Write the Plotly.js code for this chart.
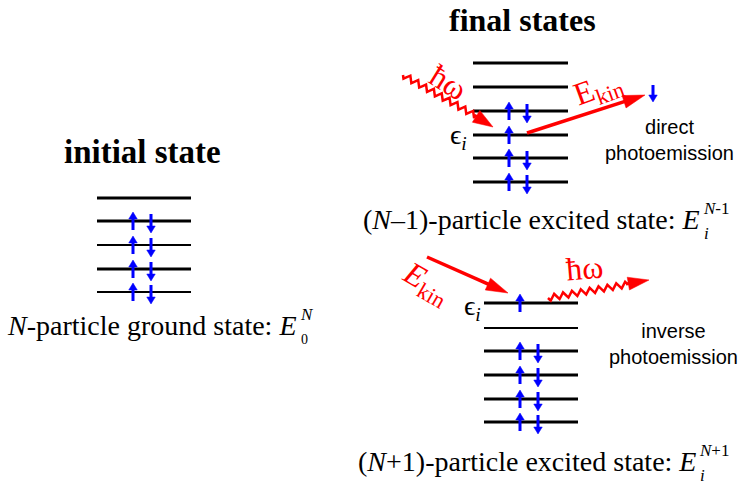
<!DOCTYPE html>
<html><head><meta charset="utf-8">
<script src="https://cdn.plot.ly/plotly-3.0.1.min.js"></script>
<style>html,body{margin:0;padding:0;background:#fff}#chart{width:742px;height:485px}</style>
</head><body><div id="chart"></div>
<script>
// ---- data: energy levels (diagram rows) and occupations ----
const initialLevels = [198, 221, 245, 269, 292];
const initialUp     = [0, 1, 1, 1, 1];
const initialDown   = [0, 1, 1, 1, 1];

const removalLevels = [63, 87, 111, 135, 158, 182];
const removalUp     = [0, 0, 1, 1, 1, 1];
const removalDown   = [0, 0, 1, 0, 1, 1];

const additionLevels = [303, 328, 351, 375, 399, 422];
const additionUp     = [1, 0, 1, 1, 1, 1];
const additionDown   = [0, 0, 1, 1, 1, 1];

const panelTitles = ["initial state", "final states"];
const stateLabels = ["<i>N</i>-particle ground state: <i>E</i>",
                     "(<i>N</i>–1)-particle excited state: <i>E</i>",
                     "(<i>N</i>+1)-particle excited state: <i>E</i>"];
const stateSup = ["<i>N</i>", "<i>N</i>-1", "<i>N</i>+1"];
const stateSub = ["0", "<i>i</i>", "<i>i</i>"];
const processLabels = ["direct<br>photoemission", "inverse<br>photoemission"];

// ---- layout geometry ----
const panels = [
  {levels: initialLevels, up: initialUp, down: initialDown, x0: 97, x1: 191, ux: 133, dx: 151, widths: [3,3,2,3,2]},
  {levels: removalLevels, up: removalUp, down: removalDown, x0: 473, x1: 568, ux: 509, dx: 527, widths: [3,3,3,3,3,3]},
  {levels: additionLevels, up: additionUp, down: additionDown, x0: 484, x1: 578, ux: 520, dx: 538, widths: [3,2,3,3,3,3]}
];
const BLUE = '#0000ff', RED = '#ff0000';
const serif = 'Liberation Serif, Times New Roman, serif';
const sans = 'Liberation Sans, Arial, sans-serif';

const traces = [];
const ann = [];

function seg(xs, ys, color, width) {
  traces.push({type:'scatter', mode:'lines', x:xs, y:ys, line:{color:color, width:width},
    hoverinfo:'skip', showlegend:false});
}
// arrow: shaft + filled head polygon, tip at (x1,y1)
function arrow(x0, y0, x1, y1, color, width, hl, hw) {
  const L = Math.hypot(x1-x0, y1-y0), ux = (x1-x0)/L, uy = (y1-y0)/L;
  const bx = x1 - ux*hl, by = y1 - uy*hl;
  seg([x0, bx + ux*1], [y0, by + uy*1], color, width);
  traces.push({type:'scatter', mode:'lines', fill:'toself', fillcolor:color,
    x:[x1, bx - uy*hw/2, bx + uy*hw/2, x1], y:[y1, by + ux*hw/2, by - ux*hw/2, y1],
    line:{color:color, width:0.5}, hoverinfo:'skip', showlegend:false});
}

panels.forEach(p => {
  p.levels.forEach((ly, i) => {
    seg([p.x0, p.x1], [ly, ly], '#000', p.widths[i]);
    if (p.up[i]) arrow(p.ux, ly+9, p.ux, ly-9, BLUE, 3, 7, 8.5);
    if (p.down[i]) arrow(p.dx, ly-7, p.dx, ly+12, BLUE, 3, 7, 8.5);
  });
});

// photon squiggle (decoration)
function squiggle(x0, y0, x1, y1, amp, wl) {
  const L = Math.hypot(x1-x0, y1-y0), ux = (x1-x0)/L, uy = (y1-y0)/L;
  const xs = [], ys = [];
  for (let s = 0; s <= L + 0.01; s += wl/4) {
    const k = Math.round(s/(wl/4)) % 4;
    const o = [0, amp, 0, -amp][k];
    xs.push(x0 + ux*s - uy*o); ys.push(y0 + uy*s + ux*o);
  }
  seg(xs, ys, RED, 2.5);
}
squiggle(403, 75, 476, 116, 3, 9);
arrow(474, 115, 493, 127, RED, 3, 20, 14);
squiggle(548, 298, 630, 284, 3, 9);
arrow(626, 284, 649, 280, RED, 3, 21, 13);

// electron arrows
arrow(527, 133, 645, 95, RED, 3.5, 22, 13);
arrow(427, 257, 508, 293, RED, 3.5, 22, 13);
// emitted electron spin
arrow(653, 85, 653, 102, BLUE, 3, 7, 8.5);

function txt(t, x, y, o) {
  ann.push(Object.assign({xref:'x', yref:'y', x:x, y:y, text:t, showarrow:false,
    xanchor:'center', yanchor:'middle', font:{family:serif, size:28, color:'#000'}}, o||{}));
}
const f = (fam, size, color) => ({family:fam, size:size, color:color||'#000'});

txt('<b>'+panelTitles[0]+'</b>', 142, 152, {font:f(serif, 33)});
txt('<b>'+panelTitles[1]+'</b>', 522, 0, {yanchor:'top', font:f(serif, 32)});

txt(stateLabels[0], 298, 325, {xanchor:'right'});
txt(stateSup[0], 298, 314, {xanchor:'left', font:f(serif, 17)});
txt(stateSub[0], 299, 339, {xanchor:'left', font:f(serif, 14)});

txt(stateLabels[1], 702, 219, {xanchor:'right'});
txt(stateSup[1], 701, 208, {xanchor:'left', font:f(serif, 17)});
txt(stateSub[1], 702, 233, {xanchor:'left', font:f(serif, 17)});

txt(stateLabels[2], 698, 461, {xanchor:'right'});
txt(stateSup[2], 697, 450, {xanchor:'left', font:f(serif, 17)});
txt(stateSub[2], 698, 475, {xanchor:'left', font:f(serif, 17)});

txt(processLabels[0], 603, 140, {xanchor:'left', font:f(sans, 20)});
txt(processLabels[1], 607, 344, {xanchor:'left', font:f(sans, 20)});

// epsilon_i labels
txt('ϵ<sub><i>i</i></sub>', 458, 136, {font:f(serif, 28)});
txt('ϵ<sub><i>i</i></sub>', 472, 307, {font:f(serif, 28)});

// hbar omega and E_kin labels
txt('ħω', 448, 82, {textangle:32, font:f(serif, 32, RED)});
txt('ħω', 584, 268, {textangle:-5, font:f(serif, 32, RED)});
txt('E<sub>kin</sub>', 598, 89, {textangle:-20, font:f(serif, 32, RED)});
txt('<i>E</i><sub>kin</sub>', 426, 283, {textangle:30, font:f(serif, 32, RED)});

const layout = {
  width:742, height:485, margin:{l:0, r:0, t:0, b:0},
  paper_bgcolor:'#fff', plot_bgcolor:'#fff', showlegend:false,
  xaxis:{range:[0,742], visible:false, fixedrange:true},
  yaxis:{range:[485,0], visible:false, fixedrange:true},
  annotations: ann
};
Plotly.newPlot('chart', traces, layout, {displayModeBar:false, staticPlot:true});
</script></body></html>
